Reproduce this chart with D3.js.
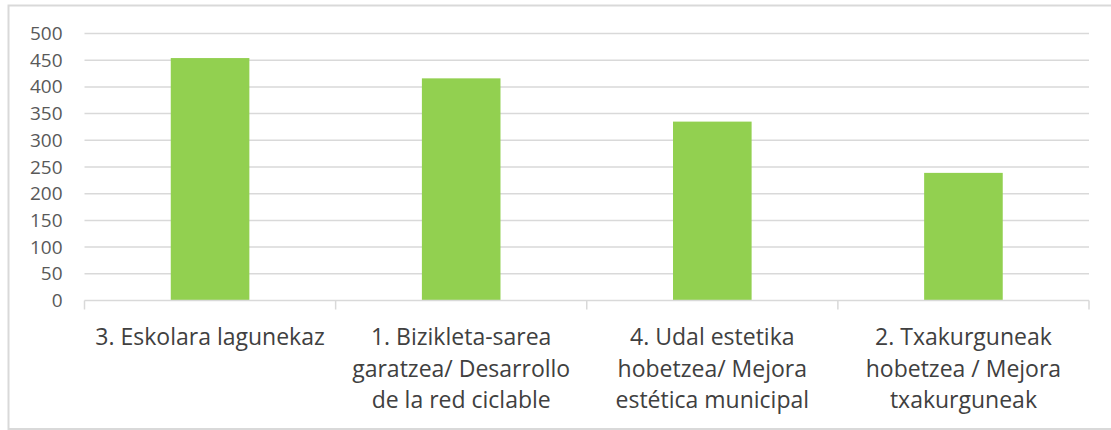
<!DOCTYPE html>
<html>
<head>
<meta charset="utf-8">
<script src="https://cdn.jsdelivr.net/npm/d3@7"></script>
<style>
  body { margin: 0; background: #fff; }
  svg { display: block; }
</style>
</head>
<body>
<svg id="chart"></svg>
<script>
// Data
const categories = [
    "3. Eskolara lagunekaz",
    "1. Bizikleta-sarea\ngaratzea/ Desarrollo\nde la red ciclable",
    "4. Udal estetika\nhobetzea/ Mejora\nestética municipal",
    "2. Txakurguneak\nhobetzea / Mejora\ntxakurguneak"
];
const values = [454, 416, 335, 239];
const yTicks = [0, 50, 100, 150, 200, 250, 300, 350, 400, 450, 500];

const dimensions = {
    width: 1111,
    height: 430,
    margin: { top: 33.5, bottom: 129.5, right: 22, left: 84.5 }
};
const innerHeight = dimensions.height - dimensions.margin.top - dimensions.margin.bottom;
const fontFamily = "'Open Sans', 'Noto Sans', sans-serif";

const svg = d3.select("#chart")
    .attr("width", dimensions.width)
    .attr("height", dimensions.height);

// chart frame (left, top and bottom edges; right edge lies outside the picture)
const frame = d3.path();
frame.moveTo(dimensions.width, 5.5);
frame.lineTo(8.5, 5.5);
frame.lineTo(8.5, 429);
frame.lineTo(dimensions.width, 429);
svg.append("path")
    .attr("d", frame.toString())
    .attr("fill", "none")
    .attr("stroke", "#d9d9d9")
    .attr("stroke-width", 2);

const xScale = d3.scaleBand()
    .domain(categories)
    .range([dimensions.margin.left, dimensions.width - dimensions.margin.right])
    .paddingInner(0.687)
    .paddingOuter(0.3435);

const yScale = d3.scaleLinear()
    .domain([0, 500])
    .range([dimensions.margin.top + innerHeight, dimensions.margin.top]);

// gridlines
svg.append("g")
    .selectAll("line")
    .data(yTicks.filter(d => d > 0))
    .join("line")
    .attr("x1", dimensions.margin.left)
    .attr("x2", dimensions.width - dimensions.margin.right)
    .attr("y1", d => yScale(d))
    .attr("y2", d => yScale(d))
    .attr("stroke", "#d9d9d9")
    .attr("stroke-width", 1.5);

// y axis labels
const yAxis = svg.append("g")
    .attr("transform", `translate(${dimensions.margin.left},0)`)
    .call(d3.axisLeft(yScale).tickValues(yTicks).tickSize(0).tickPadding(22));
yAxis.select(".domain").remove();
yAxis.selectAll("text")
    .attr("fill", "#595959")
    .style("font-family", fontFamily)
    .style("font-size", "19px");

// bars
svg.append("g")
    .selectAll("rect")
    .data(values)
    .join("rect")
    .attr("x", (d, i) => xScale(categories[i]))
    .attr("y", d => yScale(d))
    .attr("width", xScale.bandwidth())
    .attr("height", d => yScale(0) - yScale(d))
    .attr("fill", "#92d050");

// x axis line with ticks at category boundaries
const step = xScale.step();
const x0 = dimensions.margin.left;
const x1 = dimensions.width - dimensions.margin.right;
const axisG = svg.append("g");
axisG.append("line")
    .attr("x1", x0).attr("x2", x1)
    .attr("y1", yScale(0)).attr("y2", yScale(0))
    .attr("stroke", "#d9d9d9")
    .attr("stroke-width", 1.5);
axisG.selectAll("line.tick")
    .data(d3.range(categories.length + 1))
    .join("line")
    .attr("class", "tick")
    .attr("x1", i => x0 + i * step)
    .attr("x2", i => x0 + i * step)
    .attr("y1", yScale(0))
    .attr("y2", yScale(0) + 9)
    .attr("stroke", "#d9d9d9")
    .attr("stroke-width", 1.5);

// category labels, one text per line
const labelG = svg.append("g");
categories.forEach(cat => {
    const cx = xScale(cat) + xScale.bandwidth() / 2;
    cat.split("\n").forEach((line, i) => {
        labelG.append("text")
            .attr("x", cx)
            .attr("y", 345 + i * 31.5)
            .attr("text-anchor", "middle")
            .attr("fill", "#404040")
            .style("font-family", fontFamily)
            .style("font-size", "23px")
            .text(line);
    });
});
</script>
</body>
</html>
